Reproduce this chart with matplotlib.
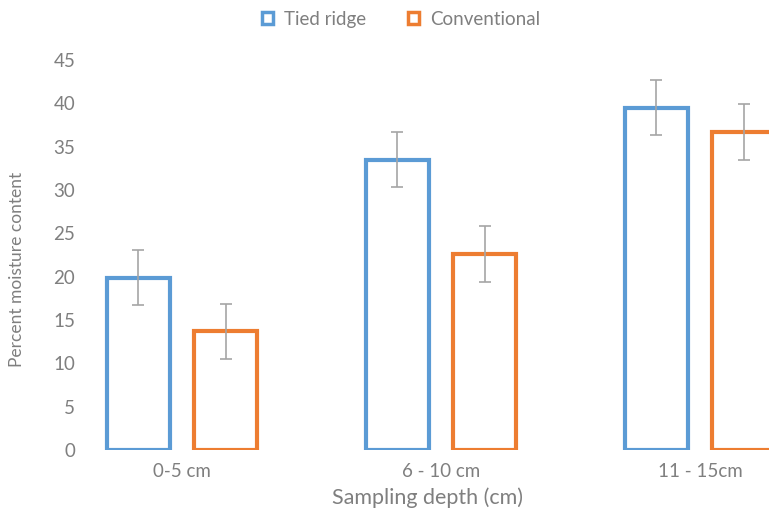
import matplotlib.pyplot as plt
from matplotlib.patches import Patch
import numpy as np

# Data
depths = ['0-5 cm', '6 - 10 cm', '11 - 15cm']
tied_ridge = [19.9, 33.5, 39.5]
conventional = [13.7, 22.6, 36.7]
tied_err = [3.2, 3.2, 3.2]
conv_err = [3.2, 3.2, 3.2]
yticks = [0, 5, 10, 15, 20, 25, 30, 35, 40, 45]

blue = '#5B9BD5'
orange = '#ED7D31'
grey_text = '#7F7F7F'

plt.rcParams['font.family'] = ['Lato', 'DejaVu Sans']

fig = plt.figure(figsize=(7.69, 5.11), dpi=100)
ax = fig.add_axes([85 / 769, 61 / 511, 684 / 769, 390 / 511])

x = np.arange(len(depths))
off = 0.168
w = 0.24

ax.bar(x - off, tied_ridge, width=w, facecolor='white', edgecolor=blue, linewidth=3)
ax.bar(x + off, conventional, width=w, facecolor='white', edgecolor=orange, linewidth=3)
ax.errorbar(x - off, tied_ridge, yerr=tied_err, fmt='none', ecolor='#A5A5A5',
            elinewidth=1.2, capsize=4.5, capthick=1.2)
ax.errorbar(x + off, conventional, yerr=conv_err, fmt='none', ecolor='#A5A5A5',
            elinewidth=1.2, capsize=4.5, capthick=1.2)

ax.set_xlim(-97 / 259, 587 / 259)
ax.set_ylim(0, 45)
ax.set_yticks(yticks)
ax.set_xticks(x)
ax.set_xticklabels(depths)
ax.tick_params(length=0, labelsize=13.5, labelcolor=grey_text)
ax.tick_params(axis='y', pad=7)
ax.tick_params(axis='x', pad=9)

for s in ax.spines.values():
    s.set_visible(False)

ax.set_xlabel('Sampling depth (cm)', fontsize=15.5, color=grey_text, labelpad=6)
fig.text(17 / 769, 1 - 269 / 511, 'Percent moisture content', rotation=90,
         ha='center', va='center', fontsize=12.5, color=grey_text)

handles = [Patch(facecolor='white', edgecolor=blue, linewidth=2.5, label='Tied ridge'),
           Patch(facecolor='white', edgecolor=orange, linewidth=2.5, label='Conventional')]
fig.legend(handles=handles, loc='center', bbox_to_anchor=(401 / 769, 1 - 19 / 511),
           ncol=2, frameon=False, fontsize=13.5, labelcolor=grey_text,
           handlelength=0.6, handleheight=0.6, handletextpad=0.6, columnspacing=2.2)

fig.savefig('out.png', dpi=100)
